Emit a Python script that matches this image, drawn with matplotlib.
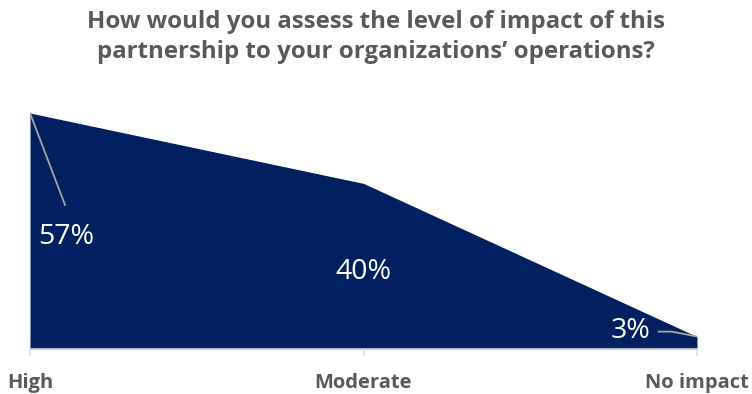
import matplotlib.pyplot as plt

# Data
categories = ['High', 'Moderate', 'No impact']
values = [57, 40, 3]
labels = ['57%', '40%', '3%']

navy = '#002060'
grey_text = '#595959'
leader = '#a6a6a6'

plt.rcParams['font.family'] = ['Open Sans', 'DejaVu Sans']

fig = plt.figure(figsize=(7.52, 3.94), dpi=100)
ax = fig.add_axes([30 / 752, 45 / 394, 667 / 752, 248.4 / 394])

x = list(range(len(categories)))
ax.fill_between(x, values, 0, color=navy, linewidth=0)
ax.set_xlim(0, len(categories) - 1)
ax.set_ylim(0, 60)

# axis styling
for s in ['top', 'right', 'left']:
    ax.spines[s].set_visible(False)
ax.spines['bottom'].set_color('#d9d9d9')
ax.spines['bottom'].set_linewidth(1.2)
ax.set_yticks([])
ax.set_xticks(x)
ax.set_xticklabels(categories, fontsize=14.5, fontweight='bold', color=grey_text)
ax.tick_params(axis='x', length=5, width=1.2, color='#d9d9d9', pad=12)

# data labels with leader lines
ax.plot([0, 0.105], [57, 34.8], color=leader, lw=1.3)
ax.text(0.11, 27.0, labels[0], fontsize=20.5, color='white', ha='center', va='center')
ax.text(1.0, 18.7, labels[1], fontsize=20.5, color='white', ha='center', va='center')
ax.plot([1.885, 1.925, 2.0], [4.2, 4.2, 3], color=leader, lw=1.3)
ax.text(1.8, 4.3, labels[2], fontsize=20.5, color='white', ha='center', va='center')

fig.text(0.5, 0.906, 'How would you assess the level of impact of this\npartnership to your organizations\u2019 operations?',
         ha='center', va='center', fontsize=17.3, fontweight='bold', color=grey_text, linespacing=1.35)

fig.savefig('out.png', dpi=100)
